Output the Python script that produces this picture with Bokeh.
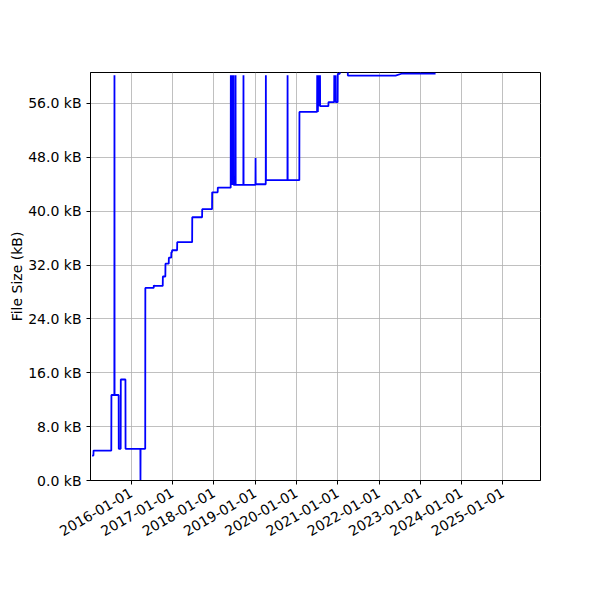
import math
from datetime import datetime
from bokeh.plotting import figure
from bokeh.models import Range1d, FixedTicker, PrintfTickFormatter, DatetimeTickFormatter, ColumnDataSource
from bokeh.embed import file_html
from bokeh.resources import INLINE

# ---- data (file size history, kB) ----
dates = [
    "2015-01-20", "2015-02-01", "2015-02-02",
    "2015-07-09", "2015-07-10",
    "2015-08-05", "2015-08-06", "2015-08-07",
    "2015-09-12", "2015-09-13", "2015-09-30", "2015-10-01",
    "2015-11-11", "2015-11-12",
    "2016-03-22", "2016-03-23", "2016-03-24",
    "2016-05-04", "2016-05-05",
    "2016-07-18", "2016-07-19", "2016-07-24",
    "2016-10-06", "2016-10-07",
    "2016-10-29", "2016-10-30",
    "2016-11-28", "2016-11-29",
    "2016-12-20", "2016-12-21", "2016-12-27", "2016-12-28",
    "2017-02-10", "2017-02-11",
    "2017-06-23", "2017-06-24",
    "2017-09-19", "2017-09-20",
    "2017-12-16", "2017-12-17",
    "2018-02-04", "2018-02-05",
    "2018-05-30", "2018-05-31", "2018-06-01", "2018-06-03", "2018-06-04",
    "2018-06-06", "2018-06-07", "2018-06-09", "2018-06-10", "2018-06-12",
    "2018-06-13", "2018-06-15", "2018-06-16", "2018-06-18", "2018-06-19",
    "2018-06-21", "2018-06-22", "2018-06-24", "2018-06-25",
    "2018-07-11", "2018-07-12", "2018-07-13",
    "2018-09-19", "2018-09-20", "2018-09-21",
    "2019-01-04", "2019-01-05", "2019-01-06",
    "2019-04-05", "2019-04-06", "2019-04-07",
    "2019-10-14", "2019-10-15", "2019-10-16",
    "2020-01-27", "2020-01-28",
    "2020-07-02", "2020-07-03", "2020-07-04", "2020-07-08", "2020-07-09",
    "2020-07-13", "2020-07-14", "2020-07-18", "2020-07-19", "2020-07-23",
    "2020-07-24", "2020-07-28", "2020-07-29",
    "2020-10-10", "2020-10-11",
    "2020-11-30", "2020-12-01", "2020-12-02", "2020-12-07", "2020-12-08",
    "2020-12-13", "2020-12-14",
    "2020-12-31", "2021-01-01", "2021-01-19", "2021-01-20", "2021-03-30", "2021-03-31",
    "2022-05-27", "2022-07-25", "2023-05-16",
]
sizes_kb = [
    3.7, 3.7, 4.45,
    4.45, 12.7,
    12.7, 60.2, 12.7,
    12.7, 4.7, 4.7, 15.0,
    15.0, 4.7,
    4.7, 0.0, 4.7,
    4.7, 28.6,
    28.6, 29.0, 28.9,
    28.9, 30.3,
    30.3, 32.2,
    32.2, 33.1,
    33.1, 33.9, 33.9, 34.2,
    34.2, 35.4,
    35.4, 39.1,
    39.1, 40.3,
    40.3, 42.8,
    42.8, 43.5,
    43.5, 60.2, 43.9, 60.2, 43.9,
    60.2, 43.9, 60.2, 43.9, 60.2,
    43.9, 60.2, 43.9, 60.2, 43.9,
    60.2, 43.9, 60.2, 43.9,
    43.9, 60.2, 43.9,
    43.9, 60.2, 43.9,
    43.9, 47.9, 44.0,
    44.0, 60.2, 44.6,
    44.6, 60.2, 44.6,
    44.6, 54.75,
    54.75, 60.2, 54.75, 60.2, 54.75,
    60.2, 55.6, 60.2, 55.6, 60.2,
    55.6, 60.2, 55.6,
    55.6, 56.2,
    56.2, 60.2, 56.2, 60.2, 56.2,
    60.2, 56.2,
    56.2, 60.4, 60.4, 61.5, 61.5, 60.15,
    60.15, 60.45, 60.45,
]
y_ticks_kb = [0, 8, 16, 24, 32, 40, 48, 56]
tick_years = [2016, 2017, 2018, 2019, 2020, 2021, 2022, 2023, 2024, 2025]

x = [datetime.strptime(d, "%Y-%m-%d") for d in dates]
src = ColumnDataSource(dict(x=x, y=sizes_kb))

FONT = "DejaVu Sans"

p = figure(
    frame_width=450, frame_height=408,
    min_border_left=90, min_border_right=10, min_border_top=72, min_border_bottom=104,
    x_axis_type="datetime",
    x_range=Range1d(datetime(2015, 1, 6), datetime(2025, 11, 29)),
    y_range=Range1d(0, 60.6),
    output_backend="svg", toolbar_location=None,
    background_fill_color="white", border_fill_color="white",
)

p.line("x", "y", source=src, line_color="#0000ff", line_width=1.8)

epoch = datetime(1970, 1, 1)
xt = [(datetime(yr, 1, 1) - epoch).total_seconds() * 1000 for yr in tick_years]
p.xaxis.ticker = FixedTicker(ticks=xt)
fmt = "%Y-%m-%d"
p.xaxis.formatter = DatetimeTickFormatter(
    milliseconds=fmt, seconds=fmt, minsec=fmt, minutes=fmt, hourmin=fmt,
    hours=fmt, days=fmt, months=fmt, years=fmt)
p.xaxis.major_label_orientation = math.pi / 6

p.yaxis.ticker = FixedTicker(ticks=y_ticks_kb)
p.yaxis.formatter = PrintfTickFormatter(format="%.1f kB")
p.yaxis.axis_label = "File Size (kB)"
p.yaxis.axis_label_standoff = 0

for ax in (p.xaxis[0], p.yaxis[0]):
    ax.major_label_text_font = FONT
    ax.major_label_text_font_size = "14px"
    ax.major_label_text_color = "black"
    ax.axis_label_text_font = FONT
    ax.axis_label_text_font_size = "14px"
    ax.axis_label_text_font_style = "normal"
    ax.axis_label_text_color = "black"
    ax.axis_line_color = "black"
    ax.major_tick_line_color = "black"
    ax.major_tick_in = 0
    ax.major_tick_out = 4
    ax.minor_tick_line_color = None
    ax.major_label_standoff = 5
p.xaxis.major_label_standoff = 7

p.xgrid.grid_line_color = "#b0b0b0"
p.ygrid.grid_line_color = "#b0b0b0"
p.xgrid.grid_line_width = 0.8
p.ygrid.grid_line_width = 0.8

p.outline_line_color = "black"
p.outline_line_width = 1
p.outline_line_alpha = 1

open("out.html", "w").write(file_html(p, INLINE))
